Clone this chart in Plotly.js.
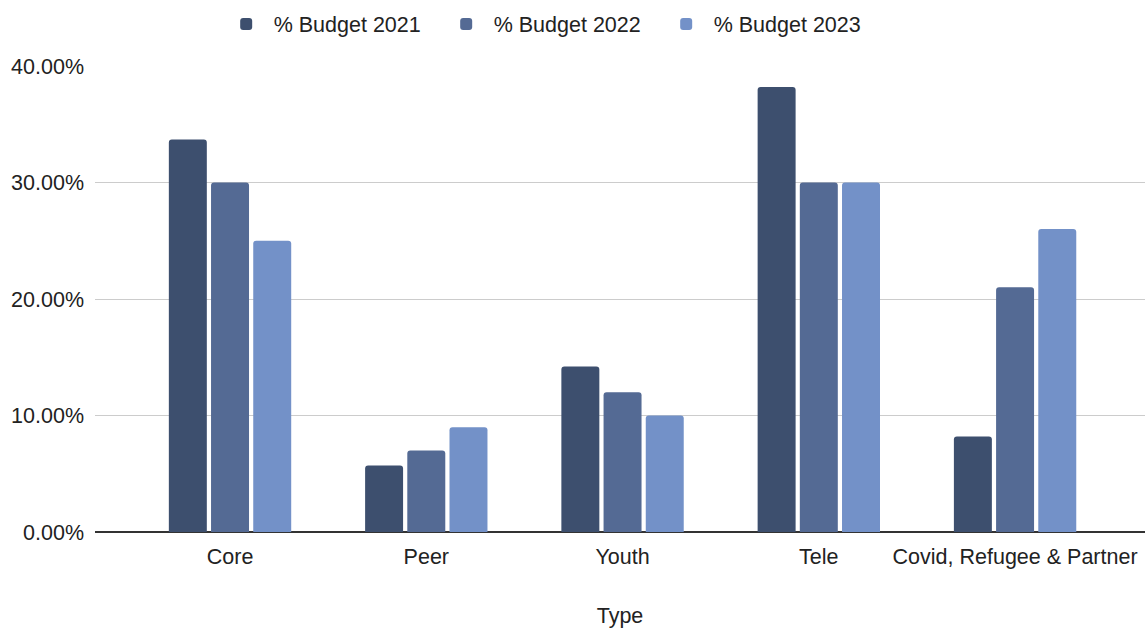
<!DOCTYPE html>
<html>
<head>
<meta charset="utf-8">
<script src="https://cdn.plot.ly/plotly-3.0.1.min.js"></script>
<style>html,body{margin:0;padding:0;background:#fff}#chart{width:1145px;height:628px}</style>
</head>
<body>
<div id="chart"></div>
<script>
const categories = ["Core", "Peer", "Youth", "Tele", "Covid, Refugee & Partner"];
const seriesNames = ["% Budget 2021", "% Budget 2022", "% Budget 2023"];
const budget2021 = [0.337, 0.057, 0.142, 0.382, 0.082];
const budget2022 = [0.30, 0.07, 0.12, 0.30, 0.21];
const budget2023 = [0.25, 0.09, 0.10, 0.30, 0.26];
const colors = ["#3d4f6e", "#546a94", "#7391c8"];

const allSeries = [budget2021, budget2022, budget2023];
const traces = allSeries.map((vals, i) => ({
  type: "bar",
  name: seriesNames[i],
  x: categories,
  y: vals,
  marker: {color: colors[i], cornerradius: 3, line: {width: 0}},
  hoverinfo: "x+y+name"
}));

const FS = 21.5;
const layout = {
  width: 1145, height: 628,
  margin: {l: 95, r: 0, t: 66, b: 96},
  paper_bgcolor: "#fff", plot_bgcolor: "#fff",
  font: {family: "Liberation Sans, Arial, sans-serif", color: "#222", size: FS},
  barmode: "group",
  bargap: 0.355,
  bargroupgap: 0.1,
  showlegend: true,
  legend: {
    orientation: "h",
    xref: "container", yref: "container",
    x: 0.4792, xanchor: "center",
    y: 1 - 24/628, yanchor: "middle",
    font: {size: FS, color: "#222"},
    itemwidth: 45,
    entrywidth: 160,
    entrywidthmode: "pixels"
  },
  xaxis: {
    type: "category",
    range: [-0.688, 4.662],
    showgrid: false,
    showline: false,
    ticks: "",
    ticklabelstandoff: 9,
    tickfont: {size: FS, color: "#222"},
    title: {text: "Type", font: {size: FS, color: "#222"}, standoff: 40}
  },
  yaxis: {
    range: [0, 0.4],
    tickvals: [0, 0.1, 0.2, 0.3, 0.4],
    tickformat: ".2%",
    gridcolor: "#cccccc",
    gridwidth: 1,
    zeroline: true,
    zerolinecolor: "#333",
    zerolinewidth: 2,
    showline: false,
    ticks: "",
    ticklabelstandoff: 10,
    tickfont: {size: FS, color: "#222"}
  }
};

Plotly.newPlot("chart", traces, layout, {displayModeBar: false, staticPlot: true});
</script>
</body>
</html>
